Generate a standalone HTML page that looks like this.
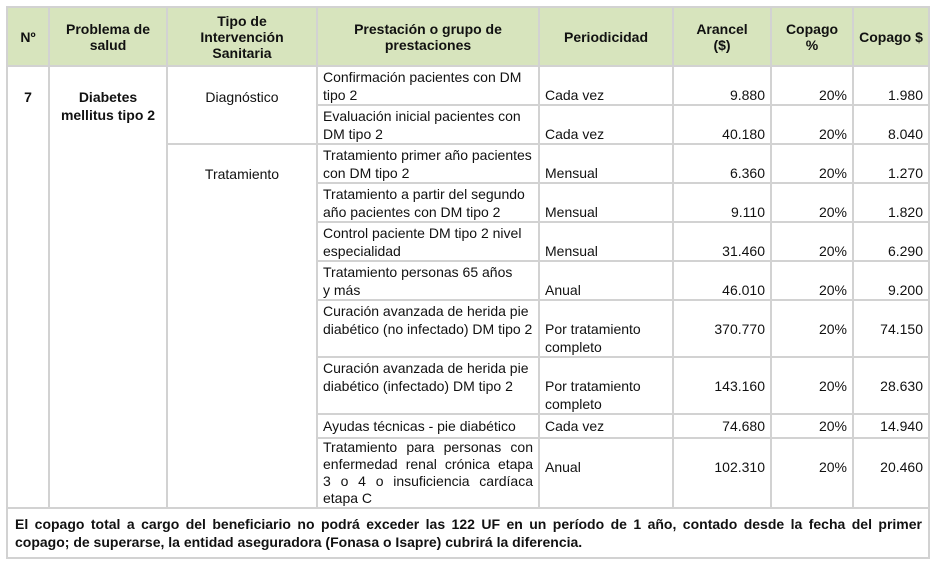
<!DOCTYPE html>
<html><head><meta charset="utf-8"><style>
body{margin:0;background:#fff;width:932px;height:561px;overflow:hidden;font-family:"Liberation Sans",Arial,sans-serif;font-size:14px;color:#111}
table{position:absolute;left:6px;top:6px;border-collapse:collapse;table-layout:fixed;width:922px}
td,th{border:2px solid #d2d2d2;padding:0 5px;line-height:18px;vertical-align:top;overflow:hidden}
th{background:#d7e4bd;font-weight:bold;text-align:center;vertical-align:middle;height:57px;line-height:16px}
.c{text-align:center}.r{text-align:right}
.p{padding-top:1px}
.v{padding-top:19px}
.v2{padding-top:2px}
.l{padding-top:21px}
.j{display:block;text-align:justify;text-align-last:justify}
.f{font-weight:bold;padding:6px 6px 0 7px;height:42px}
</style></head><body>
<table>
<colgroup><col style="width:42px"><col style="width:118px"><col style="width:150px"><col style="width:222px"><col style="width:134px"><col style="width:98px"><col style="width:82px"><col style="width:76px"></colgroup>
<tr><th>Nº</th><th>Problema de<br>salud</th><th>Tipo de<br>Intervención<br>Sanitaria</th><th>Prestación o grupo de<br>prestaciones</th><th>Periodicidad</th><th>Arancel<br>($)</th><th>Copago<br>%</th><th>Copago $</th></tr>
<tr style="height:39px"><td rowspan="10" class="c l"><b>7</b></td><td rowspan="10" class="c l"><b>Diabetes<br>mellitus tipo 2</b></td><td rowspan="2" class="c l">Diagnóstico</td><td class="p">Confirmación pacientes con DM<br>tipo 2</td><td class="v">Cada vez</td><td class="r v">9.880</td><td class="r v">20%</td><td class="r v">1.980</td></tr>
<tr style="height:39px"><td class="p">Evaluación inicial pacientes con<br>DM tipo 2</td><td class="v">Cada vez</td><td class="r v">40.180</td><td class="r v">20%</td><td class="r v">8.040</td></tr>
<tr style="height:39px"><td rowspan="8" class="c" style="padding-top:20px">Tratamiento</td><td class="p">Tratamiento primer año pacientes<br>con DM tipo 2</td><td class="v">Mensual</td><td class="r v">6.360</td><td class="r v">20%</td><td class="r v">1.270</td></tr>
<tr style="height:39px"><td class="p">Tratamiento a partir del segundo<br>año pacientes con DM tipo 2</td><td class="v">Mensual</td><td class="r v">9.110</td><td class="r v">20%</td><td class="r v">1.820</td></tr>
<tr style="height:39px"><td class="p">Control paciente DM tipo 2 nivel<br>especialidad</td><td class="v">Mensual</td><td class="r v">31.460</td><td class="r v">20%</td><td class="r v">6.290</td></tr>
<tr style="height:39px"><td class="p">Tratamiento personas 65 años<br>y más</td><td class="v">Anual</td><td class="r v">46.010</td><td class="r v">20%</td><td class="r v">9.200</td></tr>
<tr style="height:56px"><td class="p">Curación avanzada de herida pie<br>diabético (no infectado) DM tipo 2</td><td class="v">Por tratamiento<br>completo</td><td class="r v">370.770</td><td class="r v">20%</td><td class="r v">74.150</td></tr>
<tr style="height:56px"><td class="p">Curación avanzada de herida pie<br>diabético (infectado) DM tipo 2</td><td class="v">Por tratamiento<br>completo</td><td class="r v">143.160</td><td class="r v">20%</td><td class="r v">28.630</td></tr>
<tr style="height:24px"><td class="v2">Ayudas técnicas - pie diabético</td><td class="v2">Cada vez</td><td class="r v2">74.680</td><td class="r v2">20%</td><td class="r v2">14.940</td></tr>
<tr style="height:68px"><td style="padding-top:0;line-height:17px"><span class="j">Tratamiento para personas con</span><span class="j">enfermedad renal crónica etapa</span><span class="j">3 o 4 o insuficiencia cardíaca</span>etapa C</td><td class="v">Anual</td><td class="r v">102.310</td><td class="r v">20%</td><td class="r v">20.460</td></tr>
<tr><td colspan="8" class="f"><span class="j">El copago total a cargo del beneficiario no podrá exceder las 122 UF en un período de 1 año, contado desde la fecha del primer</span>copago; de superarse, la entidad aseguradora (Fonasa o Isapre) cubrirá la diferencia.</td></tr>
</table>
</body></html>
